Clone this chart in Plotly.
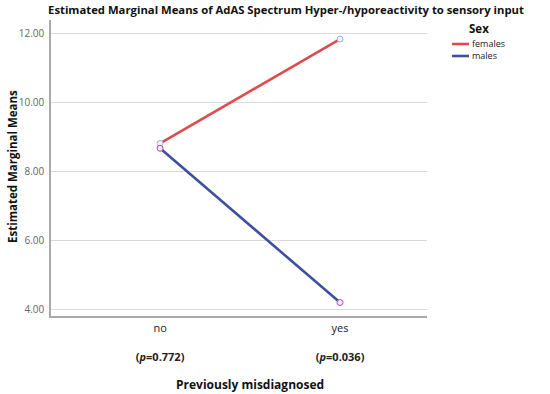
import plotly.graph_objects as go

categories = ["no", "yes"]
p_values = ["0.772", "0.036"]
series_names = ["females", "males"]
females = [8.81, 11.83]
males = [8.67, 4.21]
y_ticks = [4, 6, 8, 10, 12]

cat_pos = list(range(len(categories)))
ticktext = [f"{c}<br><br><b>(<i>p</i>={p})</b>" for c, p in zip(categories, p_values)]

FONT = "Open Sans, Liberation Sans, sans-serif"
line_colors = ["#e04a4f", "#3f4fa0"]
marker_fill = ["#eef3fb", "#f4eaf4"]
marker_edge = ["#9fb4d8", "#b0509a"]

fig = go.Figure()
for name, vals, lc, mf, me in zip(series_names, [females, males], line_colors, marker_fill, marker_edge):
    fig.add_trace(go.Scatter(
        x=cat_pos, y=vals, name=name, mode="lines+markers", showlegend=False,
        line=dict(color=lc, width=2.6),
        marker=dict(symbol="circle", size=6, color=mf, line=dict(color=me, width=1)),
    ))

# compact legend (SPSS style): short line swatches
PL, PR, PT, PB = 51, 427, 20, 316
def px(xpx):
    return (xpx - PL) / (PR - PL)
def py(ypx):
    return (PB - ypx) / (PB - PT)

annotations = [dict(
    text="<b>Sex</b>", xref="paper", yref="paper", x=px(479), y=py(29),
    xanchor="center", yanchor="middle", showarrow=False, borderpad=0,
    font=dict(size=11.5, color="#111"),
), dict(
    text="<b>Previously misdiagnosed</b>", xref="paper", yref="paper", x=px(250), y=py(384),
    xanchor="center", yanchor="middle", showarrow=False, borderpad=0,
    font=dict(size=12, color="#111"),
), dict(
    text="<b>Estimated Marginal Means</b>", xref="paper", yref="paper", x=px(12), y=py(167),
    xanchor="center", yanchor="middle", showarrow=False, borderpad=0, textangle=-90,
    font=dict(size=11.5, color="#111"),
)]
shapes = []
for i, (name, lc) in enumerate(zip(series_names, line_colors)):
    yy = 44 + 12 * i
    shapes.append(dict(type="line", xref="paper", yref="paper",
                       x0=px(452), x1=px(469), y0=py(yy), y1=py(yy),
                       line=dict(color=lc, width=2.6)))
    annotations.append(dict(
        text=name, xref="paper", yref="paper", x=px(471), y=py(yy),
        xanchor="left", yanchor="middle", showarrow=False, borderpad=0,
        font=dict(size=9, color="#222"),
    ))

fig.update_layout(
    width=550, height=394,
    margin=dict(l=PL, r=550 - PR, t=PT, b=394 - PB),
    paper_bgcolor="white", plot_bgcolor="white",
    font=dict(family=FONT, color="#222"),
    title=dict(
        text="<b>Estimated Marginal Means of AdAS Spectrum Hyper-/hyporeactivity to sensory input</b>",
        x=0.52, xanchor="center", y=0.975, yanchor="middle",
        font=dict(size=11.3, family=FONT, color="#111"),
    ),
    showlegend=False,
    annotations=annotations,
    shapes=shapes,
)

fig.update_xaxes(
    automargin=False,
    range=[-0.606, 1.483],
    tickvals=cat_pos, ticktext=ticktext,
    tickfont=dict(size=11, color="#222"),
    showgrid=False, zeroline=False,
    showline=True, linecolor="#a8a8a8", linewidth=1.5,
    ticks="", ticklabelstandoff=1,
)
fig.update_yaxes(
    automargin=False,
    range=[3.82, 12.38],
    tickvals=y_ticks, ticktext=[f"{v:.2f}" for v in y_ticks],
    tickfont=dict(size=10, color="#666"),
    showgrid=True, gridcolor="#d9d9d9", gridwidth=1,
    zeroline=False,
    showline=True, linecolor="#a8a8a8", linewidth=1.5,
    ticks="", ticklabelstandoff=3,
)

fig.write_html("out.html", config={"displayModeBar": False},
               post_script="document.body.style.margin='0';")
